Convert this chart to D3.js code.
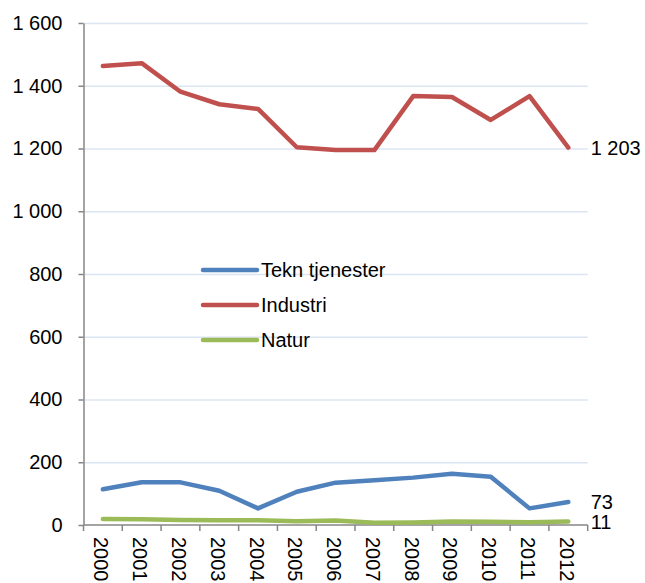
<!DOCTYPE html>
<html><head><meta charset="utf-8">
<script src="https://cdn.jsdelivr.net/npm/d3@7"></script>
<style>body{margin:0;background:#fff}svg{display:block;font-family:"Liberation Sans",Arial,sans-serif}</style>
</head><body><svg id="c" width="645" height="583"></svg>
<script>
const years = ["2000","2001","2002","2003","2004","2005","2006","2007","2008","2009","2010","2011","2012"];
const tekn = [114,136,136,109,53,106,135,143,151,163,154,53,73];
const industri = [1463,1472,1381,1341,1326,1204,1195,1195,1367,1364,1291,1367,1203];
const natur = [19,18,16,15,15,12,14,7,8,11,10,9,11];
const seriesNames = ["Tekn tjenester","Industri","Natur"];
const yTicks = [0,200,400,600,800,1000,1200,1400,1600];

const colors = ["#4F81BD","#C0504D","#9BBB59"];
const series = [tekn, industri, natur];
const FS = 20;
const svg = d3.select("#c");
const L = 83.5, R = 587.7, T = 23, B = 525;
const x = d3.scaleBand().domain(years).range([L,R]);
const y = d3.scaleLinear().domain([0,1600]).range([B,T]);
const fmt = v => d3.format(",")(v).replace(/,/g," ");

// grid
svg.append("g").selectAll("line").data(yTicks.filter(d=>d>0)).join("line")
  .attr("x1",L).attr("x2",R).attr("y1",d=>y(d)+0.5).attr("y2",d=>y(d)+0.5)
  .attr("stroke","#DCE6F2").attr("stroke-width",1.3);

// y axis
const ya = svg.append("g").attr("transform",`translate(${L},0)`).call(d3.axisLeft(y).tickValues(yTicks).tickSize(5).tickSizeOuter(0).tickFormat(fmt).tickPadding(16));
ya.select(".domain").attr("stroke","#868686").attr("stroke-width",1.5);
ya.selectAll(".tick line").attr("stroke","#868686").attr("stroke-width",1.5);
ya.selectAll("text").attr("font-size",FS).attr("fill","#000").attr("font-family","Liberation Sans, Arial, sans-serif");

// x axis
const xa = svg.append("g").attr("transform",`translate(0,${B})`);
xa.append("line").attr("x1",L).attr("x2",R).attr("stroke","#868686").attr("stroke-width",1.5);
const xt = [...years.map(d=>x(d)), R];
xa.selectAll("line.t").data(xt).join("line").attr("class","t")
  .attr("x1",d=>d).attr("x2",d=>d).attr("y1",0).attr("y2",6).attr("stroke","#868686").attr("stroke-width",1.5);
xa.selectAll("text").data(years).join("text")
  .attr("transform",d=>`translate(${x(d)+x.bandwidth()/2-8.5},12) rotate(90)`)
  .attr("font-size",FS).attr("text-anchor","start")
  .text(d=>d);

// lines
const line = d3.line().x((d,i)=>x(years[i])+x.bandwidth()/2).y(d=>y(d));
series.forEach((s,i)=>{
  svg.append("path").datum(s).attr("d",line).attr("fill","none")
    .attr("stroke",colors[i]).attr("stroke-width",4.5).attr("stroke-linejoin","round").attr("stroke-linecap","round");
});

// end labels
const endX = R + 3;
[industri,tekn,natur].forEach(s=>{
  const v = s[s.length-1];
  svg.append("text").attr("x",endX).attr("y",y(v)).attr("dy","0.35em")
    .attr("font-size",FS).text(fmt(v));
});

// legend
const lg = svg.append("g");
seriesNames.forEach((n,i)=>{
  const yy = 270 + i*35;
  lg.append("line").attr("x1",203).attr("x2",257).attr("y1",yy).attr("y2",yy)
    .attr("stroke",colors[i]).attr("stroke-width",4.5).attr("stroke-linecap","round");
  lg.append("text").attr("x",261).attr("y",yy).attr("dy","0.35em").attr("font-size",FS).text(n);
});
</script></body></html>
